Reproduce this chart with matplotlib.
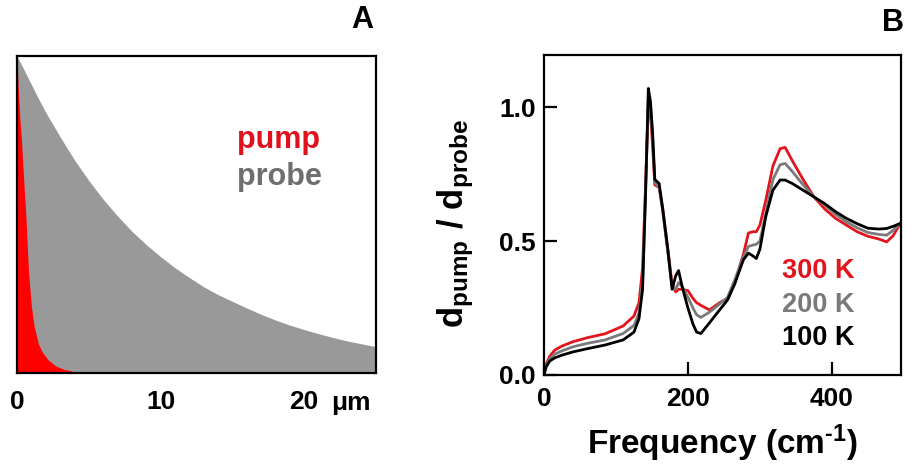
import matplotlib
matplotlib.use("Agg")
import matplotlib.pyplot as plt
import matplotlib.transforms as mtransforms

plt.rcParams['font.family'] = ['Liberation Sans', 'DejaVu Sans']
plt.rcParams['font.weight'] = 'bold'
plt.rcParams['axes.labelweight'] = 'bold'
plt.rcParams['axes.unicode_minus'] = False
plt.rcParams['mathtext.fontset'] = 'custom'
plt.rcParams['mathtext.rm'] = 'Liberation Sans:bold'
plt.rcParams['mathtext.it'] = 'Liberation Sans:bold'
plt.rcParams['mathtext.bf'] = 'Liberation Sans:bold'

# panel A: penetration profiles (depth in um, normalised intensity)
probe_depth = [0, 0.5, 1, 1.5, 2, 3, 4, 5, 6, 7, 8, 9, 10, 11, 12, 13, 14,
               15, 16, 17, 18, 19, 20, 21, 22, 23, 24, 25]
probe_int = [1.0, 0.955, 0.91, 0.865, 0.822, 0.745, 0.672, 0.607, 0.548,
             0.495, 0.447, 0.405, 0.367, 0.332, 0.301, 0.272, 0.247, 0.226,
             0.205, 0.185, 0.167, 0.151, 0.137, 0.124, 0.112, 0.101, 0.092,
             0.083]
pump_depth = [0, 0.1, 0.2, 0.3, 0.4, 0.5, 0.6, 0.8, 1.0, 1.2, 1.5, 1.8, 2.2,
              2.7, 3.3, 4.0, 5.0]
pump_int = [1.0, 0.88, 0.80, 0.74, 0.66, 0.58, 0.51, 0.32, 0.21, 0.145, 0.09,
            0.063, 0.04, 0.022, 0.011, 0.004, 0.0]
a_ticks = [0, 10, 20]
a_ticklabels = ['0', '10', '20']

# panel B: d_pump / d_probe vs frequency (cm-1)
freq = [0, 3, 8, 15, 25, 40, 60, 85, 110, 125, 132, 137, 141, 145, 148, 151,
        154, 160, 165, 172, 178, 183, 187, 192, 200, 207, 212, 218, 230, 244,
        255, 265, 277, 284, 290, 295, 300, 308, 318, 328, 335, 345, 360, 375,
        390, 405, 420, 435, 450, 465, 476, 485, 495]
ratio_300K = [0.0, 0.04, 0.07, 0.093, 0.108, 0.124, 0.139, 0.154, 0.183, 0.22,
              0.27, 0.40, 0.70, 1.00, 0.98, 0.85, 0.71, 0.70, 0.62, 0.47,
              0.34, 0.31, 0.32, 0.32, 0.315, 0.286, 0.27, 0.26, 0.243, 0.27,
              0.285, 0.345, 0.45, 0.53, 0.535, 0.535, 0.56, 0.65, 0.78, 0.845,
              0.85, 0.80, 0.73, 0.665, 0.62, 0.585, 0.56, 0.535, 0.518, 0.508,
              0.497, 0.52, 0.566]
ratio_200K = [0.0, 0.035, 0.06, 0.078, 0.09, 0.105, 0.118, 0.131, 0.155,
              0.185, 0.23, 0.35, 0.68, 1.04, 1.0, 0.88, 0.72, 0.70, 0.61,
              0.46, 0.33, 0.32, 0.345, 0.33, 0.29, 0.25, 0.225, 0.215, 0.235,
              0.265, 0.29, 0.355, 0.44, 0.48, 0.485, 0.488, 0.50, 0.60, 0.73,
              0.785, 0.79, 0.76, 0.71, 0.665, 0.635, 0.60, 0.572, 0.55, 0.532,
              0.525, 0.522, 0.54, 0.566]
ratio_100K = [0.0, 0.03, 0.052, 0.064, 0.074, 0.086, 0.098, 0.112, 0.131,
              0.16, 0.21, 0.32, 0.66, 1.07, 1.02, 0.90, 0.73, 0.715, 0.62,
              0.47, 0.32, 0.37, 0.39, 0.33, 0.25, 0.19, 0.16, 0.155, 0.195,
              0.243, 0.28, 0.34, 0.43, 0.455, 0.445, 0.435, 0.47, 0.59, 0.69,
              0.728, 0.728, 0.715, 0.69, 0.665, 0.64, 0.61, 0.585, 0.565,
              0.548, 0.545, 0.547, 0.555, 0.566]
temps = ['300 K', '200 K', '100 K']
colors = ['#e3141c', '#7a7a7a', '#000000']

fig = plt.figure(figsize=(9.06, 4.74), dpi=100)

# ---- panel A
axa = fig.add_axes([0.0188, 0.2131, 0.3962, 0.6688])
axa.fill_between(probe_depth, probe_int, 0, color='#999999', lw=0)
axa.fill_between(pump_depth, pump_int, 0, color='#ff0000', lw=0)
axa.set_xlim(0, 25)
axa.set_ylim(0, 1.0)
axa.set_xticks(a_ticks)
axa.set_xticklabels(a_ticklabels)
axa.set_yticks([])
axa.tick_params(axis='x', length=0, pad=12, labelsize=19)
for s in axa.spines.values():
    s.set_linewidth(1.6)
trans = mtransforms.blended_transform_factory(axa.transData, axa.transAxes)
axa.text(21.9, -0.117, '\u03bcm', transform=trans, fontsize=19,
         va='baseline', ha='left')
axa.text(0.613, 0.71, 'pump', transform=axa.transAxes, fontsize=22,
         color='#e0101c', va='baseline')
axa.text(0.613, 0.593, 'probe', transform=axa.transAxes, fontsize=22,
         color='#6e6e6e', va='baseline')

# ---- panel B
axb = fig.add_axes([0.6004, 0.2089, 0.3941, 0.6751])
for vals, lab, c in zip([ratio_300K, ratio_200K, ratio_100K], temps, colors):
    axb.plot(freq, vals, color=c, lw=2.0)
axb.set_xlim(0, 496)
axb.set_ylim(0, 1.195)
axb.set_xticks([0, 200, 400])
axb.set_yticks([0, 0.5, 1.0])
axb.set_yticklabels(['0.0', '0.5', '1.0'])
axb.tick_params(direction='in', length=9.5, width=1.6, labelsize=19)
axb.tick_params(axis='x', pad=9)
axb.tick_params(axis='y', pad=6)
for s in axb.spines.values():
    s.set_linewidth(1.6)
axb.set_xlabel('Frequency (cm$^{\\text{-}1}$)', fontsize=24)
axb.xaxis.set_label_coords(0.5, -0.147)
axb.set_ylabel('$\\mathrm{d_{pump}\\ /\\ d_{probe}}$', fontsize=25)
axb.yaxis.set_label_coords(-0.19, 0.475)
for i, (lab, c) in enumerate(zip(temps, colors)):
    axb.text(330, 0.362 - i * 0.125, lab, color=c, fontsize=19.5,
             va='baseline', ha='left')

fig.text(362 / 906, 1 - 20 / 474, 'A', fontsize=22, ha='center', va='center')
fig.text(893 / 906, 1 - 23 / 474, 'B', fontsize=22, ha='center', va='center')

fig.savefig('out.png', dpi=100)
